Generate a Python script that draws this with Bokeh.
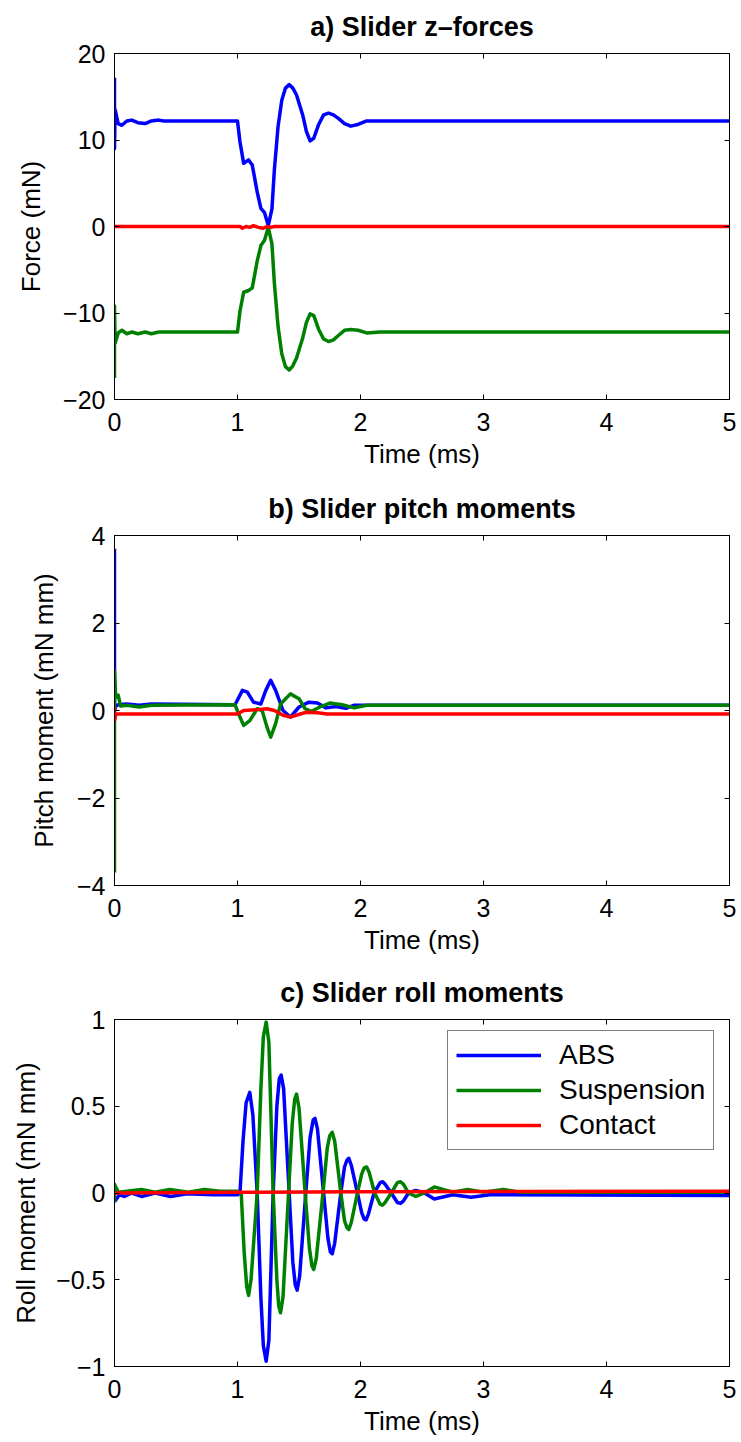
from bokeh.plotting import figure
from bokeh.models import (Range1d, FixedTicker, LinearAxis, CustomJSTickFormatter,
                          Legend, LegendItem, CustomLabelingPolicy)
from bokeh.layouts import column
from bokeh.embed import file_html
from bokeh.resources import INLINE

FONT = "Liberation Sans"
BLUE = "#0000ff"
GREEN = "#008000"
RED = "#ff0000"

# ---------------- data ----------------
x_ticks = [0, 1, 2, 3, 4, 5]

# a) Slider z-forces (mN)
za_t = [0.0, 0.0, 0.005, 0.03, 0.06, 0.10, 0.14, 0.19, 0.25, 0.30,
        0.36, 0.40, 1.00, 1.02, 1.05, 1.09, 1.12, 1.16, 1.19, 1.22,
        1.25, 1.28, 1.30, 1.33, 1.36, 1.39, 1.42, 1.45, 1.48, 1.53,
        1.56, 1.59, 1.62, 1.66, 1.70, 1.74, 1.78, 1.82, 1.87, 1.92,
        1.98, 2.05, 2.16, 5.0]
za_abs = [17.2, 9.0, 13.5, 11.9, 11.7, 12.2, 12.3, 12.0, 11.9, 12.2,
          12.3, 12.2, 12.2, 9.8, 7.3, 7.7, 7.1, 4.0, 2.1, 1.6,
          0.1, 2.0, 6.6, 11.6, 14.6, 16.0, 16.4, 16.0, 15.2, 12.9,
          11.0, 9.9, 10.2, 11.8, 12.9, 13.1, 12.9, 12.5, 11.9, 11.6,
          11.8, 12.2, 12.2, 12.2]
za_susp = [-17.5, -9.2, -13.5, -12.3, -12.0, -12.4, -12.2, -12.4, -12.2, -12.4,
           -12.2, -12.2, -12.2, -9.8, -7.6, -7.4, -7.1, -4.0, -2.2, -1.6,
           -0.1, -2.0, -6.6, -11.6, -14.7, -16.2, -16.6, -16.1, -15.2, -12.9,
           -11.1, -10.1, -10.3, -11.9, -13.0, -13.3, -13.1, -12.6, -12.0, -11.9,
           -12.0, -12.3, -12.2, -12.2]
za_con_t = [0.0, 1.02, 1.04, 1.07, 1.10, 1.13, 1.17, 1.21, 1.24, 1.27, 1.30, 5.0]
za_con = [0.0, 0.0, -0.2, 0.0, -0.1, 0.1, -0.1, -0.2, 0.0, -0.1, 0.0, 0.0]
za_ticks = [-20, -10, 0, 10, 20]

# b) Slider pitch moments (mN mm)
pb_abs_t = [0.0, 0.0, 0.01, 0.03, 0.1, 0.2, 0.3, 0.98, 1.04, 1.08,
            1.13, 1.19, 1.23, 1.27, 1.31, 1.37, 1.43, 1.50, 1.58, 1.65,
            1.72, 1.80, 1.88, 1.95, 2.0, 5.0]
pb_abs = [3.7, 0.0, 0.1, 0.13, 0.15, 0.12, 0.15, 0.13, 0.46, 0.42,
          0.19, 0.15, 0.46, 0.69, 0.46, 0.0, -0.15, 0.08, 0.19, 0.17,
          0.06, 0.09, 0.05, 0.12, 0.12, 0.12]
pb_susp_t = [0.0, 0.0, 0.01, 0.03, 0.05, 0.1, 0.2, 0.3, 0.98, 1.02,
             1.05, 1.10, 1.16, 1.20, 1.24, 1.27, 1.31, 1.35, 1.43, 1.50,
             1.55, 1.60, 1.67, 1.75, 1.85, 1.95, 2.05, 5.0]
pb_susp = [-3.7, 0.9, 0.3, 0.35, 0.1, 0.12, 0.08, 0.12, 0.13, -0.15,
           -0.34, -0.23, 0.04, 0.0, -0.38, -0.61, -0.3, 0.15, 0.38, 0.27,
           0.04, -0.02, 0.08, 0.17, 0.13, 0.06, 0.12, 0.12]
pb_con_t = [0.0, 0.0, 0.01, 1.0, 1.05, 1.16, 1.24, 1.30, 1.37, 1.43, 1.51, 1.56, 1.65, 1.73, 5.0]
pb_con = [0.08, -0.23, -0.08, -0.08, 0.0, 0.02, 0.04, 0.0, -0.11, -0.15, -0.08, -0.04, -0.05,
          -0.08, -0.08]
pb_ticks = [-4, -2, 0, 2, 4]

# c) Slider roll moments (mN mm)
rc_abs_t = [0.0, 0.04, 0.08, 0.14, 0.22, 0.33, 0.455, 0.59, 0.8, 1.0,
            1.02, 1.045, 1.07, 1.10, 1.125, 1.16, 1.19, 1.21, 1.233, 1.255,
            1.29, 1.32, 1.34, 1.355, 1.375, 1.42, 1.45, 1.47, 1.485, 1.505,
            1.555, 1.59, 1.615, 1.63, 1.65, 1.70, 1.735, 1.755, 1.77, 1.79,
            1.84, 1.87, 1.89, 1.905, 1.925, 1.975, 2.01, 2.03, 2.046, 2.065,
            2.11, 2.16, 2.18, 2.2, 2.25, 2.3, 2.325, 2.35, 2.39, 2.45,
            2.52, 2.6, 2.75, 2.9, 3.05, 5.0]
rc_abs = [-0.05, -0.01, -0.02, 0.0, -0.02, 0.0, -0.02, -0.005, -0.01, -0.01,
          0.0, 0.3, 0.52, 0.58, 0.45, 0.0, -0.6, -0.88, -0.97, -0.85,
          0.0, 0.5, 0.66, 0.68, 0.6, 0.0, -0.4, -0.53, -0.56, -0.48,
          0.0, 0.32, 0.42, 0.43, 0.37, 0.0, -0.26, -0.34, -0.35, -0.29,
          0.0, 0.15, 0.19, 0.20, 0.16, 0.0, -0.115, -0.15, -0.155, -0.12,
          0.0, 0.06, 0.065, 0.05, 0.0, -0.055, -0.06, -0.045, 0.0, 0.015,
          0.0, -0.035, -0.01, -0.025, -0.01, -0.015]
rc_susp_t = [0.0, 0.0, 0.03, 0.1, 0.22, 0.33, 0.45, 0.6, 0.73, 0.86,
             1.0, 1.03, 1.055, 1.075, 1.09, 1.11, 1.16, 1.19, 1.21, 1.233,
             1.255, 1.29, 1.32, 1.335, 1.35, 1.37, 1.415, 1.445, 1.465, 1.48,
             1.50, 1.55, 1.585, 1.605, 1.62, 1.64, 1.695, 1.73, 1.75, 1.77,
             1.79, 1.84, 1.87, 1.89, 1.905, 1.925, 1.975, 2.01, 2.03, 2.05,
             2.07, 2.115, 2.16, 2.18, 2.2, 2.25, 2.3, 2.325, 2.35, 2.39,
             2.45, 2.52, 2.6, 2.75, 2.87, 3.0, 3.16, 3.3, 5.0]
rc_susp = [-0.05, 0.05, 0.005, 0.01, 0.02, 0.005, 0.02, 0.005, 0.02, 0.01,
           0.01, 0.0, -0.35, -0.54, -0.59, -0.5, 0.0, 0.6, 0.9, 0.985,
           0.87, 0.0, -0.5, -0.65, -0.69, -0.6, 0.0, 0.4, 0.54, 0.57,
           0.49, 0.0, -0.32, -0.42, -0.44, -0.38, 0.0, 0.26, 0.33, 0.35,
           0.3, 0.0, -0.16, -0.2, -0.21, -0.17, 0.0, 0.11, 0.145, 0.15,
           0.12, 0.0, -0.065, -0.07, -0.055, 0.0, 0.06, 0.065, 0.05, 0.0,
           -0.02, 0.0, 0.035, 0.005, 0.02, 0.005, 0.02, 0.005, 0.005]
rc_con_t = [0.0, 1.0, 2.0, 3.0, 5.0]
rc_con = [0.0, 0.004, 0.007, 0.009, 0.01]
rc_ticks = [-1, -0.5, 0, 0.5, 1]

series_names = ["ABS", "Suspension", "Contact"]

# ---------------- styling helpers ----------------
fmt_code = "return tick < 0 ? '\u2212' + String(Math.abs(tick)) : String(tick);"
no_labels_code = "return new Set()"


def style_axis(ax, ticks, labels=True):
    ax.ticker = FixedTicker(ticks=ticks)
    ax.formatter = CustomJSTickFormatter(code=fmt_code)
    ax.major_tick_in = 5
    ax.major_tick_out = 0
    ax.minor_tick_in = 0
    ax.minor_tick_out = 0
    ax.minor_tick_line_color = None
    ax.axis_line_color = "black"
    ax.axis_line_width = 1
    ax.major_tick_line_color = "black"
    ax.major_tick_line_width = 1
    ax.major_label_text_font = FONT
    ax.major_label_text_color = "black"
    if labels:
        ax.major_label_text_font_size = "25px"
    else:
        ax.major_label_text_font_size = "1px"
        ax.major_label_standoff = 0
        ax.major_label_policy = CustomLabelingPolicy(code=no_labels_code)
    ax.axis_label_text_font = FONT
    ax.axis_label_text_font_size = "26px"
    ax.axis_label_text_font_style = "normal"
    ax.axis_label_text_color = "black"


def make_fig(title, ylabel, yr, yticks, height, top, bottom, ylabel_standoff):
    p = figure(width=741, height=height, x_range=Range1d(0, 5), y_range=Range1d(*yr),
               output_backend="svg", toolbar_location=None,
               min_border_left=114, min_border_right=12,
               min_border_top=top, min_border_bottom=bottom)
    p.xgrid.visible = False
    p.ygrid.visible = False
    p.outline_line_color = "black"
    p.outline_line_width = 1
    p.background_fill_color = "white"
    p.border_fill_color = "white"

    style_axis(p.xaxis[0], x_ticks)
    p.xaxis[0].axis_label = "Time (ms)"
    p.xaxis[0].major_label_standoff = 13
    p.xaxis[0].axis_label_standoff = 5

    style_axis(p.yaxis[0], yticks)
    p.yaxis[0].axis_label = ylabel
    p.yaxis[0].major_label_standoff = 9
    p.yaxis[0].axis_label_standoff = ylabel_standoff

    top_ax = LinearAxis()
    style_axis(top_ax, x_ticks, labels=False)
    p.add_layout(top_ax, "above")
    right_ax = LinearAxis()
    style_axis(right_ax, yticks, labels=False)
    p.add_layout(right_ax, "right")

    p.title.text = title
    p.title.text_font = FONT
    p.title.text_font_size = "27px"
    p.title.text_font_style = "bold"
    p.title.text_color = "black"
    p.title.align = "center"
    p.title.standoff = 16
    return p


LW = 3.5

pa = make_fig("a) Slider z\u2013forces", "Force (mN)", (-20, 20), za_ticks, 475, 53, 76, 14)
pa.line(za_t, za_abs, color=BLUE, line_width=LW, line_join="round")
pa.line(za_t, za_susp, color=GREEN, line_width=LW, line_join="round")
pa.line(za_con_t, za_con, color=RED, line_width=LW, line_join="round")

pb = make_fig("b) Slider pitch moments", "Pitch moment (mN mm)", (-4, 4), pb_ticks, 486, 60, 76, 15)
pb.line(pb_abs_t, pb_abs, color=BLUE, line_width=LW, line_join="round")
pb.line(pb_susp_t, pb_susp, color=GREEN, line_width=LW, line_join="round")
pb.line(pb_con_t, pb_con, color=RED, line_width=LW, line_join="round")

pc = make_fig("c) Slider roll moments", "Roll moment (mN mm)", (-1, 1), rc_ticks, 481, 58, 76, 12)
r1 = pc.line(rc_abs_t, rc_abs, color=BLUE, line_width=LW, line_join="round")
r2 = pc.line(rc_susp_t, rc_susp, color=GREEN, line_width=LW, line_join="round")
r3 = pc.line(rc_con_t, rc_con, color=RED, line_width=LW, line_join="round")

legend = Legend(items=[LegendItem(label=series_names[0], renderers=[r1]),
                       LegendItem(label=series_names[1], renderers=[r2]),
                       LegendItem(label=series_names[2], renderers=[r3])],
                location=(333, 216))
legend.border_line_color = "black"
legend.border_line_width = 1
legend.background_fill_color = "white"
legend.background_fill_alpha = 1.0
legend.label_text_font = FONT
legend.label_text_font_size = "28px"
legend.label_text_color = "black"
legend.glyph_width = 85
legend.glyph_height = 22
legend.label_height = 22
legend.spacing = 3
legend.padding = 8
legend.margin = 0
legend.label_standoff = 18
pc.add_layout(legend)

layout = column(pa, pb, pc, spacing=0)

open("out.html", "w").write(file_html(layout, INLINE))
